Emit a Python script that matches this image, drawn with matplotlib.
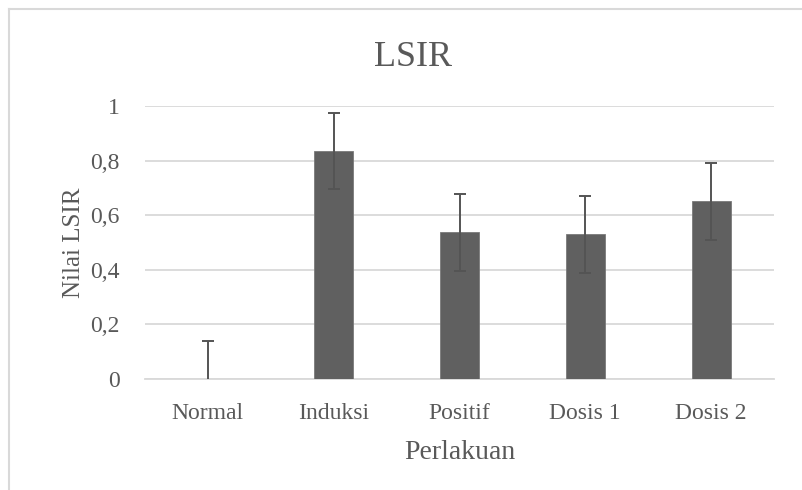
import matplotlib
matplotlib.use("Agg")
import matplotlib.pyplot as plt
from matplotlib.lines import Line2D
from matplotlib.ticker import FuncFormatter

# data
categories = ["Normal", "Induksi", "Positif", "Dosis 1", "Dosis 2"]
values = [0.0, 0.836, 0.537, 0.530, 0.651]
errors = [0.138, 0.14, 0.141, 0.14, 0.142]
y_ticks = [0, 0.2, 0.4, 0.6, 0.8, 1.0]

text_color = "#595959"
bar_color = "#606060"
err_color = "#545454"
grid_color = "#d9d9d9"

plt.rcParams["font.family"] = ["Liberation Serif", "DejaVu Serif"]

fig = plt.figure(figsize=(8.03, 4.9), dpi=100)
ax = fig.add_axes([145 / 803, 1 - 379 / 490, (774 - 145) / 803, (379 - 106) / 490])

x = range(len(categories))
ax.bar(x, values, width=0.31, color=bar_color, edgecolor="#7a7a7a", linewidth=0.6, zorder=3)
ax.errorbar(x, values, yerr=errors, fmt="none", ecolor=err_color,
            elinewidth=1.4, capsize=4.5, capthick=1.4, zorder=4)

ax.set_xlim(-0.5, len(categories) - 0.5)
ax.set_ylim(0, 1)
ax.set_yticks(y_ticks)
ax.yaxis.set_major_formatter(FuncFormatter(lambda v, p: f"{v:g}".replace(".", ",")))
ax.set_xticks(list(x))
ax.set_xticklabels(categories)

ax.grid(axis="y", color=grid_color, linewidth=1.3, zorder=0)
for side in ["top", "right", "left"]:
    ax.spines[side].set_visible(False)
ax.spines["bottom"].set_color(grid_color)
ax.spines["bottom"].set_linewidth(1.3)
ax.tick_params(axis="both", length=0, labelsize=17, colors=text_color)
ax.tick_params(axis="x", pad=17)
ax.tick_params(axis="y", pad=18)

ax.set_xlabel("Perlakuan", fontsize=20, color=text_color, labelpad=12)
ax.set_ylabel("Nilai LSIR", fontsize=18, color=text_color, labelpad=4)
fig.text(413 / 803, 1 - 57 / 490, "LSIR", fontsize=26, color=text_color,
         ha="center", va="center")

# chart-area border (left and top edges visible)
fig.add_artist(Line2D([9.5 / 803, 9.5 / 803], [0, 1 - 9 / 490],
                      transform=fig.transFigure, color=grid_color, linewidth=1.5))
fig.add_artist(Line2D([9.5 / 803, 1], [1 - 9 / 490, 1 - 9 / 490],
                      transform=fig.transFigure, color=grid_color, linewidth=1.5))

fig.savefig("out.png", dpi=100)
